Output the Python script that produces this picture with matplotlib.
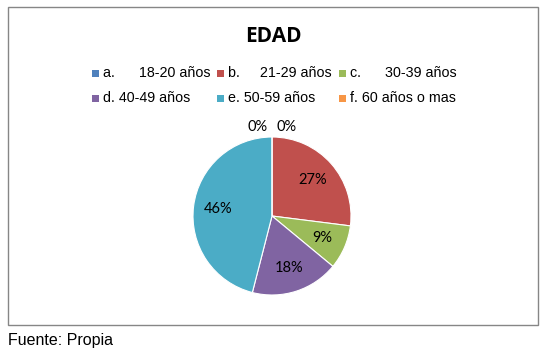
import matplotlib
matplotlib.use("Agg")
import matplotlib.pyplot as plt
from matplotlib.patches import Rectangle

etiquetas = ["a.      18-20 años", "b.     21-29 años", "c.      30-39 años",
             "d. 40-49 años", "e. 50-59 años", "f. 60 años o mas"]
valores = [0, 27, 9, 18, 46, 0]
colores = ["#4F81BD", "#C0504D", "#9BBB59", "#8064A2", "#4BACC6", "#F79646"]

W, H = 549, 356
fig = plt.figure(figsize=(W / 100, H / 100), dpi=100)
fig.patch.set_facecolor("white")

# marco del grafico
fig.patches.append(Rectangle((8 / W, 1 - 325 / H), 530 / W, 318 / H,
                             transform=fig.transFigure, fill=False,
                             edgecolor="#868686", linewidth=1.0))

fig.text(273 / W, 1 - 36 / H, "EDAD", ha="center", va="center",
         fontsize=15, fontweight="bold", family="Open Sans")

# leyenda manual en 3 columnas
col_x = [92, 217, 339]
fila_y = [73, 98]
for i, lab in enumerate(etiquetas):
    x = col_x[i % 3]
    y = fila_y[i // 3]
    fig.patches.append(Rectangle((x / W, 1 - (y + 3.5) / H), 7 / W, 7 / H,
                                 transform=fig.transFigure,
                                 facecolor=colores[i], edgecolor="none"))
    fig.text((x + 11) / W, 1 - y / H, lab, ha="left", va="center",
             fontsize=10.3, family="Liberation Sans")

cx, cy, r = 272, 216, 79
ax = fig.add_axes([(cx - r) / W, 1 - (cy + r) / H, 2 * r / W, 2 * r / H])
wedges, textos, autotextos = ax.pie(
    valores, colors=colores, startangle=90, counterclock=False,
    autopct=lambda p: "%.0f%%" % p, pctdistance=0.69,
    wedgeprops=dict(edgecolor="white", linewidth=0.8),
    textprops=dict(fontsize=10.5))
ax.set_xlim(-1, 1)
ax.set_ylim(-1, 1)
ax.set_aspect("equal")
ax.axis("off")

# las etiquetas de 0% quedan arriba, fuera del circulo
ceros = [i for i, v in enumerate(valores) if v == 0]
for k, i in enumerate(ceros):
    t = autotextos[i]
    t.set_position((-0.18 + 0.36 * k, 1.13))
    t.set_clip_on(False)
for t in autotextos:
    t.set_family(["Lato", "DejaVu Sans"])

fig.text(8 / W, 1 - 340 / H, "Fuente: Propia", ha="left", va="center",
         fontsize=11.5, family="Liberation Sans")

fig.savefig("out.png", dpi=100)
